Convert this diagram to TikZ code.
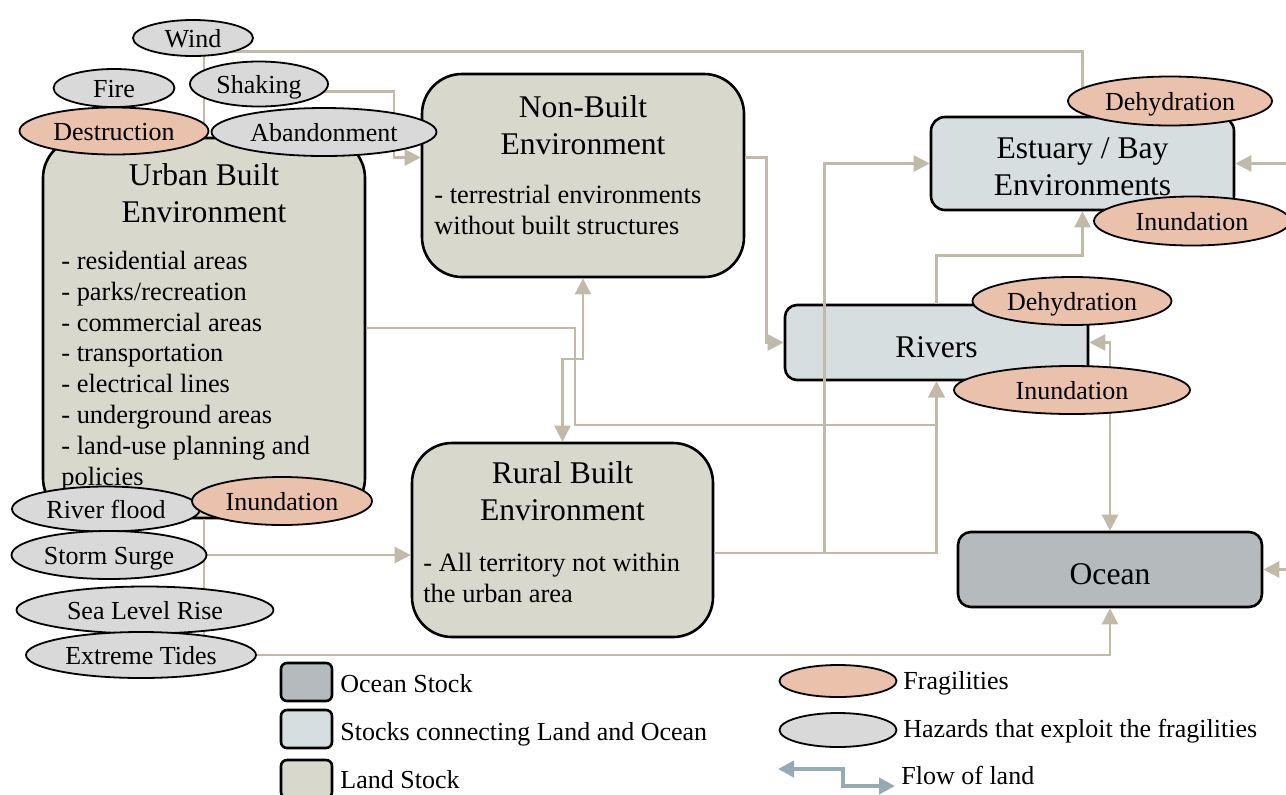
\documentclass[tikz,border=0pt]{standalone}
\usepackage{fontspec}
\setmainfont{Liberation Serif}
\usetikzlibrary{shapes.geometric,arrows.meta}

\definecolor{landc}{RGB}{216,217,204}
\definecolor{linkc}{RGB}{215,222,224}
\definecolor{oceanc}{RGB}{181,187,189}
\definecolor{fragc}{RGB}{234,193,170}
\definecolor{hazc}{RGB}{217,217,217}
\definecolor{flowc}{RGB}{194,186,168}
\definecolor{legc}{RGB}{150,170,180}

\begin{document}
\begin{tikzpicture}[x=0.5pt, y=-0.5pt,
	stock/.style={draw=black, line width=1.3pt, inner sep=0pt},
	land/.style={stock, fill=landc, rounded corners=20pt},
	link/.style={stock, fill=linkc, rounded corners=6.5pt, font=\fontsize{15.8}{17.8}\selectfont, text height=14.5pt, text depth=0pt},
	sea/.style={stock, fill=oceanc, rounded corners=6.5pt, font=\fontsize{15.8}{17.8}\selectfont, text height=14.5pt, text depth=0pt},
	title/.style={font=\fontsize{15.8}{18.5}\selectfont, align=center, inner sep=0pt},
	body/.style={font=\fontsize{13.2}{15.4}\selectfont, align=left, anchor=west, inner sep=0pt},
	oval/.style={ellipse, draw=black, line width=0.9pt, inner sep=0pt, font=\fontsize{13}{15}\selectfont, text height=9pt, text depth=0pt},
	frag/.style={oval, fill=fragc},
	haz/.style={oval, fill=hazc},
	flow/.style={draw=flowc, line width=1.3pt, -{Triangle[length=8pt,width=8pt]}},
	flowboth/.style={draw=flowc, line width=1.3pt, {Triangle[length=8pt,width=8pt]}-{Triangle[length=8pt,width=8pt]}},
	legtext/.style={anchor=base west, inner sep=0pt, font=\fontsize{13}{15}\selectfont}]
\useasboundingbox (0,0) rectangle (1286,794);

% stocks
\node[land, minimum width=161pt, minimum height=190pt] (urban) at (204,328) {};
\node[title] (urbanT) at (204,193) {Urban Built\\Environment};
\node[body] (urbanL) at (61,371) {- residential areas\\- parks/recreation\\- commercial areas\\- transportation\\- electrical lines\\- underground areas\\- land-use planning and\\policies};
\node[land, minimum width=161pt, minimum height=101.5pt] (nonbuilt) at (583,175.5) {};
\node[title] (nonbuiltT) at (583,125) {Non-Built\\Environment};
\node[body] (nonbuiltL) at (434,210) {- terrestrial environments\\without built structures};
\node[land, minimum width=150.5pt, minimum height=97pt] (rural) at (562.5,540) {};
\node[title] (ruralT) at (562.5,491) {Rural Built\\Environment};
\node[body] (ruralL) at (423,578) {- All territory not within\\the urban area};
\node[stock, fill=linkc, rounded corners=7pt, minimum width=151.5pt, minimum height=46.5pt] (estuary) at (1082.5,163.5) {};
\node[title] (estuaryT) at (1082.5,167) {Estuary / Bay\\Environments};
\node[link, rounded corners=6pt, minimum width=151.5pt, minimum height=37.5pt] (rivers) at (936.5,342.5) {Rivers};
\node[sea, minimum width=152pt, minimum height=37.5pt] (ocean) at (1110,569.5) {Ocean};

% flows of land
\coordinate (estIn) at (1292,163.5);
\coordinate (oceanIn) at (1292,569.5);
\draw[flow] (urban.north) -- ++(0,-85) -| (estuary.north);
\draw[flow] (urban.north) -- ++(0,-45) -- ++(190,0) |- ([yshift=9pt]nonbuilt.west);
\draw[flow] (urban.east) -| (575,425) -| (rivers.south);
\draw[flow] (urban.south) |- ([yshift=-7.5pt]rural.west);
\draw[flow] (urban.south) |- (ocean.south |- 0,655) -- (ocean.south);
\draw[flowboth] (nonbuilt.south) |- (rural.north |- 0,359) -- (rural.north);
\draw[flow] ([yshift=9pt]nonbuilt.east) -- ++(21,0) |- (rivers.west);
\draw[flow] ([yshift=-6.5pt]rural.east) -- ++(110,0) |- (estuary.west);
\draw[flow] ([yshift=-6.5pt]rural.east) -| (rivers.south);
\draw[flow] (rivers.north) -- ++(0,-48) -| (estuary.south);
\draw[flowboth] (ocean.north) |- (rivers.east);
\draw[flow] (estIn) -- (estuary.east);
\draw[flow] (oceanIn) -- (ocean.east);

% hazards and fragilities
\node[haz, minimum width=60pt, minimum height=18pt] (wind) at (193,38) {Wind};
\node[haz, minimum width=60.5pt, minimum height=19pt] (fire) at (114,88) {Fire};
\node[haz, minimum width=69pt, minimum height=22.5pt] (shaking) at (259,84) {Shaking};
\node[frag, minimum width=94.5pt, minimum height=23.5pt] (destruct) at (114,131) {Destruction};
\node[haz, minimum width=112.5pt, minimum height=24pt] (abandon) at (324,132) {Abandonment};
\node[haz, minimum width=94pt, minimum height=22.5pt] (riverflood) at (106,509) {River flood};
\node[frag, minimum width=90pt, minimum height=24pt] (inundUrb) at (282,501) {Inundation};
\node[haz, minimum width=97.5pt, minimum height=24pt] (surge) at (109,555) {Storm Surge};
\node[haz, minimum width=128.5pt, minimum height=23.5pt] (sealevel) at (145,610) {Sea Level Rise};
\node[haz, minimum width=115pt, minimum height=23pt] (tides) at (141,655) {Extreme Tides};
\node[frag, minimum width=102pt, minimum height=24.5pt] (dehydEst) at (1170,101) {Dehydration};
\node[frag, minimum width=98pt, minimum height=24.5pt] (inundEst) at (1192,221) {Inundation};
\node[frag, minimum width=99.5pt, minimum height=24pt] (dehydRiv) at (1072,301) {Dehydration};
\node[frag, minimum width=118pt, minimum height=24pt] (inundRiv) at (1072,390) {Inundation};

% legend
\node[stock, fill=oceanc, rounded corners=3pt, minimum width=25.5pt, minimum height=19pt] (keyOcean) at (306.5,682) {};
\node[stock, fill=linkc, rounded corners=3pt, minimum width=25.5pt, minimum height=19pt] (keyLink) at (306.5,729) {};
\node[stock, fill=landc, rounded corners=3pt, minimum width=25.5pt, minimum height=19pt] (keyLand) at (306.5,779) {};
\node[legtext] (keyOceanT) at (340,692) {Ocean Stock};
\node[legtext] (keyLinkT) at (340,740) {Stocks connecting Land and Ocean};
\node[legtext] (keyLandT) at (340,788) {Land Stock};
\node[frag, minimum width=58.5pt, minimum height=16pt] (keyFrag) at (838,681) {};
\node[haz, minimum width=58.5pt, minimum height=17pt] (keyHaz) at (838,730) {};
\node[legtext] (keyFragT) at (903,689) {Fragilities};
\node[legtext] (keyHazT) at (903,737) {Hazards that exploit the fragilities};
\coordinate (keyFlowA) at (778,769);
\coordinate (keyFlowB) at (895,786);
\draw[draw=legc, line width=2pt, {Triangle[length=8pt,width=8pt]}-{Triangle[length=8pt,width=8pt]}] (keyFlowA) -- ++(65,0) |- (keyFlowB);
\node[legtext] (keyFlowT) at (901,784) {Flow of land};
\end{tikzpicture}
\end{document}
